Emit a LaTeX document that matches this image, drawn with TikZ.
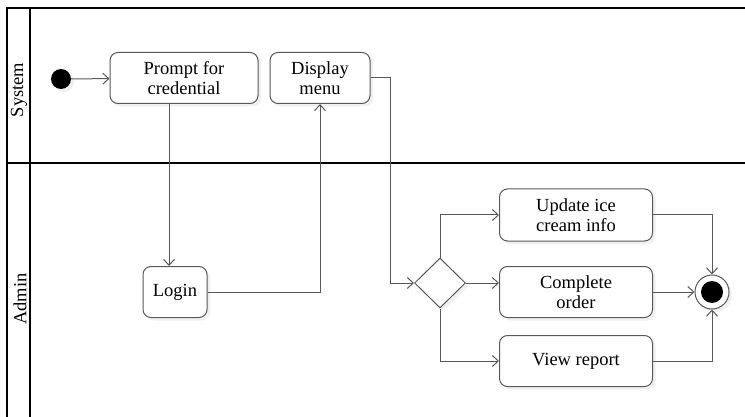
\documentclass[tikz,border=0pt]{standalone}
\usepackage{fontspec}
\setmainfont{Liberation Serif}
\usetikzlibrary{arrows.meta,shapes.geometric,shadows}

\begin{document}
\begin{tikzpicture}[x=1pt,y=-1pt,
	lane/.style={black, line width=1.5pt},
	act/.style={draw=black!65, line width=1pt, rounded corners=8pt, fill=white, align=center,
		font=\fontsize{18.5}{20}\selectfont, inner sep=2pt,
		drop shadow={opacity=0.12, shadow xshift=3pt, shadow yshift=-3pt}},
	decision/.style={diamond, draw=black!65, line width=1pt, fill=white, inner sep=0pt,
		minimum width=51pt, minimum height=50pt,
		drop shadow={opacity=0.12, shadow xshift=3pt, shadow yshift=-3pt}},
	flow/.style={draw=black!65, line width=1pt, -{Straight Barb[length=6pt,width=11pt]}},
	]
	\useasboundingbox (0,0) rectangle (745,417);
	% swimlanes
	\draw[lane] (745,8) -- (7,8) -- (7,417);
	\draw[lane] (30,8) -- (30,417);
	\draw[lane] (7,163) -- (745,163);
	\node[rotate=90, font=\fontsize{18.5}{20}\selectfont] (syslbl) at (19,90) {System};
	\node[rotate=90, font=\fontsize{18.5}{20}\selectfont] (admlbl) at (20,299) {Admin};
	% nodes
	\node[circle, fill=black, minimum size=20pt, inner sep=0pt,
		drop shadow={opacity=0.12, shadow xshift=3pt, shadow yshift=-3pt}] (start) at (61,79) {};
	\node[act, minimum width=148pt, minimum height=51pt] (prompt) at (184,78) {Prompt for\\credential};
	\node[act, minimum width=100pt, minimum height=51pt] (menu) at (320,78) {Display\\menu};
	\node[act, minimum width=64pt, minimum height=51pt] (login) at (175,292) {Login};
	\node[decision] (dec) at (440,283) {};
	\node[act, minimum width=153pt, minimum height=52pt] (upd) at (576,215) {Update ice\\cream info};
	\node[act, minimum width=153pt, minimum height=51pt] (comp) at (576,292) {Complete\\order};
	\node[act, minimum width=153pt, minimum height=51pt] (view) at (576,361) {View report};
	\node[circle, draw=black!65, line width=1pt, fill=white, minimum size=34pt, inner sep=0pt,
		drop shadow={opacity=0.12, shadow xshift=3pt, shadow yshift=-3pt}] (end) at (712,292) {};
	\node[circle, fill=black, minimum size=22pt, inner sep=0pt] (enddot) at (end) {};
	% flows
	\draw[flow] (start) -- (prompt);
	\draw[flow] ([xshift=-6pt]login.north |- prompt.south) -- ([xshift=-6pt]login.north);
	\draw[flow] (login.east) -| (menu.south);
	\draw[flow] (menu.east) -- ++(20,0) |- (dec.west);
	\draw[flow] (dec.north) |- (upd.west);
	\draw[flow] (dec.east) -- (comp.west |- dec.east);
	\draw[flow] (dec.south) |- (view.west);
	\draw[flow] (upd.east) -| (end.north);
	\draw[flow] (comp.east) -- (end.west);
	\draw[flow] (view.east) -| (end.south);
\end{tikzpicture}
\end{document}
